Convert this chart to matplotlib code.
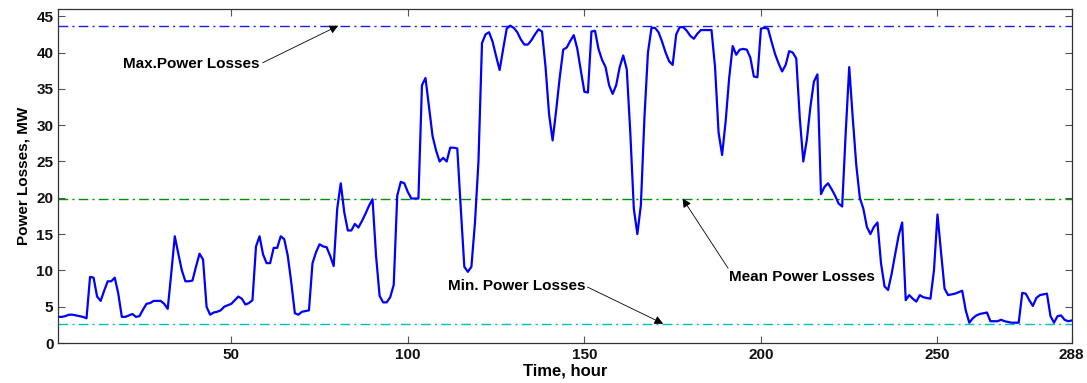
import matplotlib
import numpy as np

matplotlib.use('Agg')

import matplotlib.pyplot as plt

# hourly power losses, MW (hours 1..288)
losses = [
    3.6, 3.6, 3.7, 3.9, 3.9, 3.8, 3.7, 3.6, 3.4, 9.1,
    9.0, 6.4, 5.8, 7.2, 8.5, 8.5, 9.0, 6.8, 3.6, 3.6,
    3.8, 4.0, 3.6, 3.7, 4.6, 5.4, 5.5, 5.8, 5.8, 5.8,
    5.4, 4.7, 9.6, 14.7, 12.3, 10.0, 8.5, 8.5, 8.6, 10.5,
    12.3, 11.5, 5.0, 3.9, 4.2, 4.3, 4.5, 5.0, 5.2, 5.4,
    5.9, 6.4, 6.1, 5.3, 5.5, 5.9, 13.3, 14.7, 12.2, 11.0,
    11.0, 13.1, 13.1, 14.7, 14.3, 12.0, 8.3, 4.1, 3.9, 4.3,
    4.4, 4.5, 11.0, 12.5, 13.6, 13.3, 13.2, 12.0, 10.6, 18.5,
    22.0, 18.0, 15.5, 15.5, 16.4, 15.9, 16.8, 17.8, 18.9, 19.8,
    12.0, 6.5, 5.6, 5.6, 6.3, 8.0, 20.3, 22.2, 22.0, 20.8,
    19.9, 19.9, 19.9, 35.5, 36.5, 32.5, 28.5, 26.5, 25.0, 25.5,
    25.0, 26.9, 26.9, 26.8, 18.5, 10.5, 9.8, 10.5, 16.5, 25.0,
    41.3, 42.5, 42.8, 41.5, 39.5, 37.6, 40.5, 43.3, 43.7, 43.4,
    42.8, 41.8, 41.1, 41.1, 41.7, 42.5, 43.2, 42.9, 38.0, 31.5,
    27.9, 32.0, 36.5, 40.4, 40.7, 41.6, 42.4, 40.5, 37.5, 34.6,
    34.5, 42.9, 43.0, 40.5, 39.0, 38.0, 35.5, 34.3, 35.5, 38.0,
    39.6, 37.7, 29.0, 18.5, 15.0, 19.0, 31.0, 40.0, 43.4, 43.4,
    42.8, 41.5, 40.0, 38.8, 38.3, 42.5, 43.5, 43.5, 43.0, 42.3,
    41.9, 42.6, 43.1, 43.1, 43.1, 43.1, 38.0, 29.0, 25.9, 30.5,
    36.5, 40.9, 39.7, 40.4, 40.5, 40.4, 39.3, 36.7, 36.6, 43.3,
    43.4, 43.3, 41.5, 39.8, 38.5, 37.4, 38.3, 40.2, 40.0, 39.2,
    31.0, 25.0, 28.0, 32.5, 36.0, 37.0, 20.5, 21.5, 22.0, 21.2,
    20.3, 19.2, 18.8, 28.9, 38.0, 31.0, 24.5, 20.0, 18.5, 16.0,
    15.0, 16.0, 16.6, 11.0, 7.8, 7.3, 9.5, 12.2, 14.8, 16.6,
    5.9, 6.6, 6.1, 5.7, 6.6, 6.3, 6.2, 6.1, 10.0, 17.7,
    12.5, 7.5, 6.6, 6.7, 6.8, 7.0, 7.2, 4.5, 2.8, 3.4,
    3.8, 4.0, 4.1, 4.2, 3.0, 3.0, 3.0, 3.2, 3.0, 2.9,
    2.8, 2.8, 2.8, 6.9, 6.8, 5.9, 5.1, 6.2, 6.6, 6.7,
    6.8, 3.7, 2.8, 3.7, 3.8, 3.2, 3.0, 3.1,
]
hours = np.arange(1, len(losses) + 1)

max_loss = 43.7
mean_loss = 19.9
min_loss = 2.66

x_ticks = [50, 100, 150, 200, 250, 288]
y_ticks = [0, 5, 10, 15, 20, 25, 30, 35, 40, 45]

plt.rcParams['font.family'] = ['Liberation Sans', 'DejaVu Sans']
plt.rcParams['font.weight'] = 'bold'

fig = plt.figure(figsize=(10.87, 3.83), dpi=100)
ax = fig.add_axes([0.0536, 0.1044, 0.9323, 0.8721])

dashdot = (0, (7, 3, 1.5, 3))
ax.axhline(max_loss, color='#1a1aff', lw=1.0, linestyle=dashdot)
ax.axhline(mean_loss, color='#009000', lw=1.0, linestyle=dashdot)
ax.axhline(min_loss, color='#00bfbf', lw=1.0, linestyle=dashdot)

ax.plot(hours, losses, color='#0000ff', lw=1.6)

# annotations: text, then a separate arrow from tail to head
arrow = dict(arrowstyle='-|>', color='k', lw=0.6, mutation_scale=13,
             shrinkA=0, shrinkB=0)
ax.text(19.2, 38.4, 'Max.Power Losses', fontsize=11, fontweight='bold',
        va='center', ha='left')
ax.annotate('', xy=(80.3, max_loss), xytext=(58.9, 38.6), arrowprops=arrow)

ax.text(191.0, 9.15, 'Mean Power Losses', fontsize=11, fontweight='bold',
        va='center', ha='left')
ax.annotate('', xy=(177.8, mean_loss), xytext=(190.7, 10.3), arrowprops=arrow)

ax.text(111.5, 7.8, 'Min. Power Losses', fontsize=11, fontweight='bold',
        va='center', ha='left')
ax.annotate('', xy=(172.3, min_loss), xytext=(150.9, 7.7), arrowprops=arrow)

ax.set_xlim(1, 288)
ax.set_ylim(0, 46)
ax.set_xticks(x_ticks)
ax.set_yticks(y_ticks)
ax.tick_params(direction='in', length=5, width=0.8, labelsize=11,
               top=True, right=True, colors='#555555', labelcolor='#111111')
for lab in ax.get_xticklabels() + ax.get_yticklabels():
    lab.set_fontweight('bold')

ax.set_xlabel('Time, hour', fontsize=12, fontweight='bold', labelpad=1)
ax.set_ylabel('Power Losses, MW', fontsize=11, fontweight='bold', labelpad=4)

for side in ax.spines.values():
    side.set_color('#333333')
    side.set_linewidth(0.9)

fig.savefig('out.png', dpi=100)
